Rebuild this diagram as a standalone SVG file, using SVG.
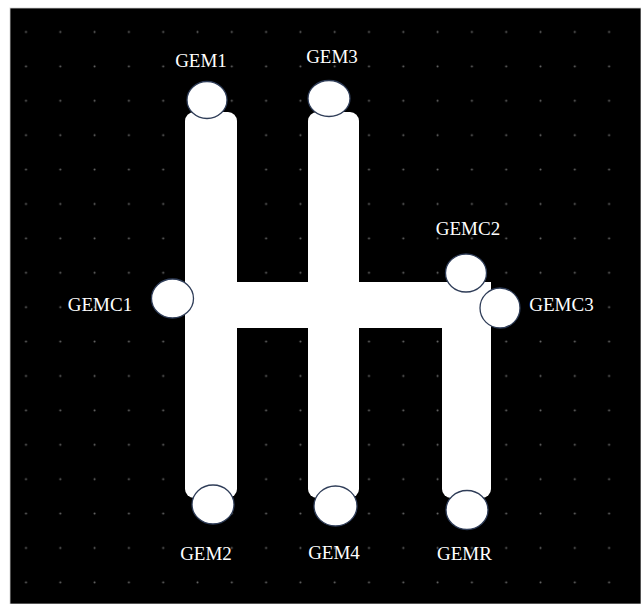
<svg xmlns="http://www.w3.org/2000/svg" width="641" height="604" viewBox="0 0 641 604">
  <defs>
    <style>
      .lbl { font-family: "Liberation Serif", "Times New Roman", serif; font-size: 19px; fill: #ffffff; text-anchor: middle; }
      .gem { fill: #ffffff; stroke: #2f3d58; stroke-width: 1.3; }
      .track { fill: #ffffff; }
    </style>
    <pattern id="dots" patternUnits="userSpaceOnUse" x="24.5" y="30.5" width="34.3" height="34.4">
      <circle cx="1.5" cy="1.5" r="1" fill="#6a6a6a"/>
    </pattern>
  </defs>
  <rect x="0" y="0" width="641" height="604" fill="#ffffff"/>
  <rect x="10" y="8" width="631" height="596" fill="#000000" stroke="#cfcfcf" stroke-width="0.8"/>
  <rect x="10" y="8" width="631" height="596" fill="url(#dots)"/>

  <g id="connectors">
    <rect class="track" x="185" y="112" width="52" height="386" rx="9"/>
    <rect class="track" x="308" y="112" width="51" height="386" rx="9"/>
    <rect class="track" x="442" y="282" width="49" height="216" rx="9"/>
    <rect class="track" x="230" y="282" width="261" height="46"/>
  </g>

  <g id="GEM1">
    <ellipse class="gem" cx="207" cy="100" rx="20" ry="18.5"/>
    <text class="lbl" x="201" y="67">GEM1</text>
  </g>
  <g id="GEM3">
    <ellipse class="gem" cx="329" cy="98.5" rx="21" ry="18"/>
    <text class="lbl" x="332" y="63">GEM3</text>
  </g>
  <g id="GEMC1">
    <ellipse class="gem" cx="172.5" cy="298.5" rx="21" ry="19.5"/>
    <text class="lbl" x="100" y="311">GEMC1</text>
  </g>
  <g id="GEMC2">
    <ellipse class="gem" cx="466" cy="273" rx="20.5" ry="19"/>
    <text class="lbl" x="468" y="235">GEMC2</text>
  </g>
  <g id="GEMC3">
    <ellipse class="gem" cx="500" cy="308" rx="20" ry="20"/>
    <text class="lbl" x="561.5" y="311">GEMC3</text>
  </g>
  <g id="GEM2">
    <ellipse class="gem" cx="213" cy="504.5" rx="21" ry="19.5"/>
    <text class="lbl" x="206" y="560">GEM2</text>
  </g>
  <g id="GEM4">
    <ellipse class="gem" cx="335.5" cy="506" rx="21.5" ry="20"/>
    <text class="lbl" x="334" y="559">GEM4</text>
  </g>
  <g id="GEMR">
    <ellipse class="gem" cx="467" cy="510" rx="21" ry="19.5"/>
    <text class="lbl" x="464.5" y="560">GEMR</text>
  </g>
</svg>
